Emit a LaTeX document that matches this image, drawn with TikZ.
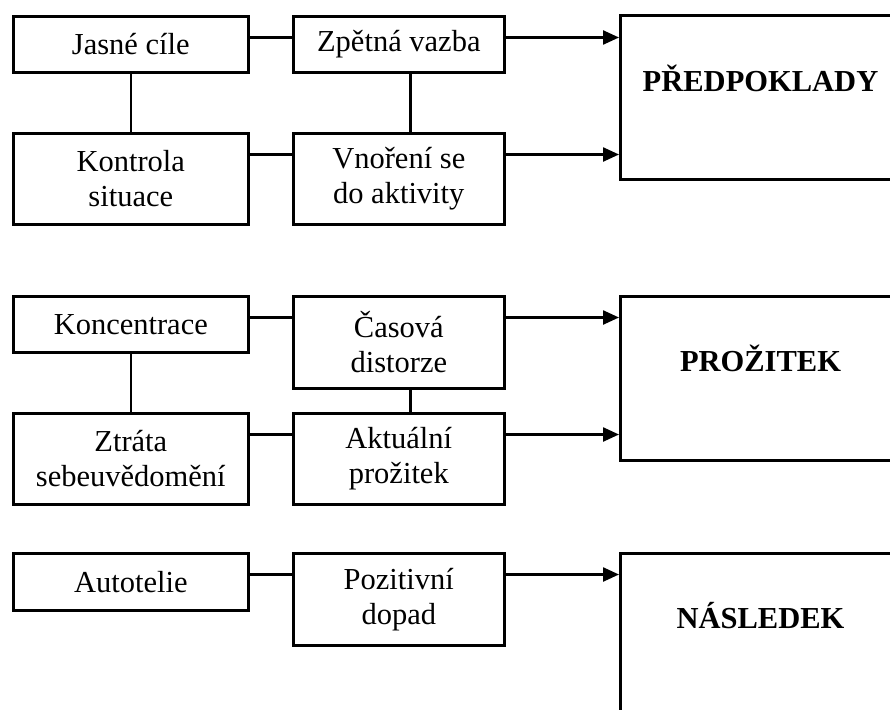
\documentclass[tikz,border=0pt]{standalone}
\usepackage{fontspec}
\setmainfont{Liberation Serif}
\usetikzlibrary{arrows.meta}
\begin{document}
\begin{tikzpicture}[x=1pt,y=-1pt,
 box/.style={draw,line width=2.6pt,inner sep=0pt,anchor=north west,align=center,font=\fontsize{30.5}{35}\selectfont},
 lw/.style={minimum width=235pt},
 mw/.style={minimum width=211pt},
 big/.style={draw,line width=3pt,anchor=north west,minimum width=280pt,minimum height=164pt,inner sep=0pt},
 bigtext/.style={font=\fontsize{30.5}{35}\selectfont\bfseries},
 link/.style={line width=2.4pt},
 arr/.style={line width=2.4pt,-{Triangle[length=16pt,width=14pt]}}]
\useasboundingbox (0,0) rectangle (890,709);
\clip (0,0) rectangle (890,709);
% group 1
\node[box,lw,minimum height=56pt] (jc) at (12,15) {Jasné cíle};
\node[box,mw,minimum height=56pt] (zv) at (292,15) {Zpětná vazba};
\node[box,lw,minimum height=91pt] (ks) at (12,132) {Kontrola\\situace};
\node[box,mw,minimum height=91pt] (vn) at (292,132) {Vnoření se\\do aktivity};
\node[big] (pr) at (619,14) {};
\node[bigtext] (prt) at ([yshift=-64pt]pr.north) {PŘEDPOKLADY};
% group 2
\node[box,lw,minimum height=56pt] (ko) at (12,295) {Koncentrace};
\node[box,mw,minimum height=92pt] (cd) at (292,295) {Časová\\distorze};
\node[box,lw,minimum height=91pt] (zs) at (12,412) {Ztráta\\sebeuvědomění};
\node[box,mw,minimum height=91pt] (ap) at (292,412) {Aktuální\\prožitek};
\node[big] (pz) at (619,295) {};
\node[bigtext] (pzt) at ([yshift=-63pt]pz.north) {PROŽITEK};
% group 3
\node[box,lw,minimum height=57pt] (au) at (12,552) {Autotelie};
\node[box,mw,minimum height=92pt] (pd) at (292,552) {Pozitivní\\dopad};
\node[big] (na) at (619,552) {};
\node[bigtext] (nat) at ([yshift=-64pt]na.north) {NÁSLEDEK};
% link points
\foreach \n in {jc,zv,ks,vn,ko,cd,zs,ap,au,pd}{
  \coordinate (\n-r) at ([yshift=-22.5pt]\n.north east);
  \coordinate (\n-l) at ([yshift=-22.5pt]\n.north west);
}
% connectors
\draw[link] (jc-r) -- (zv-l);
\draw[link] (ks-r) -- (vn-l);
\draw[link] (jc.south) -- (ks.north);
\draw[link] ([xshift=11.5pt]zv.south) -- ([xshift=11.5pt]vn.north);
\draw[arr] (zv-r) -- (zv-r -| pr.west);
\draw[arr] (vn-r) -- (vn-r -| pr.west);
\draw[link] (ko-r) -- (cd-l);
\draw[link] (zs-r) -- (ap-l);
\draw[link] (ko.south) -- (zs.north);
\draw[link] ([xshift=11.5pt]cd.south) -- ([xshift=11.5pt]ap.north);
\draw[arr] (cd-r) -- (cd-r -| pz.west);
\draw[arr] (ap-r) -- (ap-r -| pz.west);
\draw[link] (au-r) -- (pd-l);
\draw[arr] (pd-r) -- (pd-r -| na.west);
\end{tikzpicture}
\end{document}
